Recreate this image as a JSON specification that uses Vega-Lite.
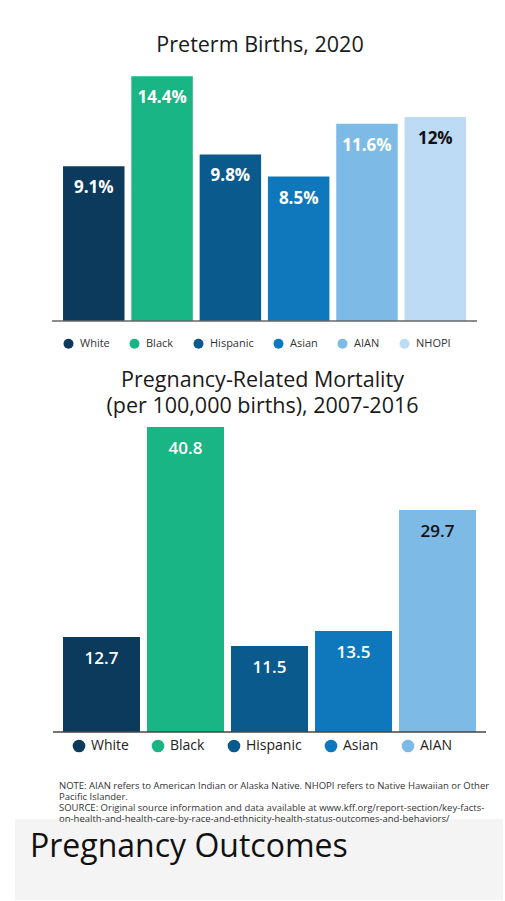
{
  "$schema": "https://vega.github.io/schema/vega-lite/v6.json",
  "background": "white",
  "padding": {"left": 15, "top": 34, "right": 0, "bottom": 0},
  "spacing": 20,
  "resolve": {"scale": {"color": "independent"}, "legend": {"color": "independent"}},
  "config": {
    "font": "Open Sans",
    "view": {"stroke": null},
    "axis": {"grid": false}
  },
  "datasets": {
    "preterm": [
      {"group": "White", "value": 0.091},
      {"group": "Black", "value": 0.144},
      {"group": "Hispanic", "value": 0.098},
      {"group": "Asian", "value": 0.085},
      {"group": "AIAN", "value": 0.116},
      {"group": "NHOPI", "value": 0.12}
    ],
    "mortality": [
      {"group": "White", "value": 12.7},
      {"group": "Black", "value": 40.8},
      {"group": "Hispanic", "value": 11.5},
      {"group": "Asian", "value": 13.5},
      {"group": "AIAN", "value": 29.7}
    ]
  },
  "vconcat": [
    {
      "width": 461,
      "height": 255,
      "title": {"text": "Preterm Births, 2020", "fontSize": 21.5, "fontWeight": "normal", "color": "#1a1a1a", "offset": 10, "frame": "group", "anchor": "middle", "dx": 14.5},
      "layer": [
        {
          "data": {"name": "preterm"},
          "mark": {"type": "bar"},
          "encoding": {
            "x": {"field": "group", "type": "nominal", "sort": ["White", "Black", "Hispanic", "Asian", "AIAN", "NHOPI"],
              "scale": {"paddingInner": 0.1, "paddingOuter": 0.4246, "align": 0.828}, "axis": null},
            "y": {"field": "value", "type": "quantitative", "scale": {"domain": [0, 0.15], "nice": false}, "axis": null},
            "color": {"field": "group", "type": "nominal",
              "scale": {"domain": ["White", "Black", "Hispanic", "Asian", "AIAN", "NHOPI"], "range": ["#0b3a5c", "#1ab584", "#0b5a8e", "#0f78bd", "#7dbae5", "#bddbf4"]},
              "legend": {"title": null, "orient": "none", "legendX": 48, "legendY": 272, "padding": 0, "direction": "horizontal", "symbolType": "circle", "symbolSize": 100, "symbolStrokeWidth": 0, "labelFontSize": 11, "labelColor": "#333333", "labelOffset": 6, "columnPadding": 19}}
          }
        },
        {
          "data": {"name": "preterm"},
          "mark": {"type": "text", "baseline": "alphabetic", "dy": 27, "fontSize": 17, "fontWeight": 700},
          "encoding": {
            "x": {"field": "group", "type": "nominal", "sort": ["White", "Black", "Hispanic", "Asian", "AIAN", "NHOPI"]},
            "y": {"field": "value", "type": "quantitative"},
            "text": {"field": "value", "type": "quantitative", "format": ".1~%"},
            "color": {"condition": {"test": "datum.group === 'NHOPI'", "value": "#111111"}, "value": "#ffffff"}
          }
        },
        {
          "data": {"values": [{"base": 0}]},
          "mark": {"type": "rule", "color": "#666666", "strokeWidth": 1.5},
          "encoding": {
            "x": {"datum": "White", "type": "nominal", "bandPosition": -0.179},
            "x2": {"datum": "NHOPI", "bandPosition": 1.179},
            "y": {"field": "base", "type": "quantitative"}
          }
        }
      ]
    },
    {
      "width": 471,
      "height": 305,
      "title": {"text": ["Pregnancy-Related Mortality", "(per 100,000 births), 2007-2016"], "fontSize": 21.5, "lineHeight": 26, "fontWeight": "normal", "color": "#1a1a1a", "offset": 10, "frame": "group", "anchor": "middle", "dx": 12},
      "layer": [
        {
          "data": {"name": "mortality"},
          "mark": {"type": "bar"},
          "encoding": {
            "x": {"field": "group", "type": "nominal", "sort": ["White", "Black", "Hispanic", "Asian", "AIAN"],
              "scale": {"paddingInner": 0.0833, "paddingOuter": 0.345, "align": 0.828}, "axis": null},
            "y": {"field": "value", "type": "quantitative", "scale": {"domain": [0, 40.8], "nice": false}, "axis": null},
            "color": {"field": "group", "type": "nominal",
              "scale": {"domain": ["White", "Black", "Hispanic", "Asian", "AIAN"], "range": ["#0b3a5c", "#1ab584", "#0b5a8e", "#0f78bd", "#7dbae5"]},
              "legend": {"title": null, "orient": "none", "legendX": 50, "legendY": 305, "padding": 7, "direction": "horizontal", "symbolType": "circle", "symbolSize": 160, "symbolStrokeWidth": 0, "labelFontSize": 14, "labelColor": "#222222", "labelOffset": 5, "columnPadding": 22}}
          }
        },
        {
          "data": {"name": "mortality"},
          "mark": {"type": "text", "baseline": "alphabetic", "dy": 27, "fontSize": 17, "fontWeight": 600},
          "encoding": {
            "x": {"field": "group", "type": "nominal", "sort": ["White", "Black", "Hispanic", "Asian", "AIAN"]},
            "y": {"field": "value", "type": "quantitative"},
            "text": {"field": "value", "type": "quantitative", "format": ".1f"},
            "color": {"condition": {"test": "datum.group === 'AIAN'", "value": "#111111"}, "value": "#ffffff"}
          }
        },
        {
          "data": {"values": [{"base": 0}]},
          "mark": {"type": "rule", "color": "#444444", "strokeWidth": 1.5},
          "encoding": {
            "x": {"datum": "White", "type": "nominal", "bandPosition": -0.13},
            "x2": {"datum": "AIAN", "bandPosition": 1.13},
            "y": {"field": "base", "type": "quantitative"}
          }
        }
      ]
    },
    {
      "width": 488,
      "height": 81,
      "view": {"fill": "#f4f4f4", "stroke": null},
      "title": {
        "text": [
          "NOTE: AIAN refers to American Indian or Alaska Native. NHOPI refers to Native Hawaiian or Other",
          "Pacific Islander.",
          "SOURCE: Original source information and data available at www.kff.org/report-section/key-facts-",
          "on-health-and-health-care-by-race-and-ethnicity-health-status-outcomes-and-behaviors/"
        ],
        "anchor": "start", "frame": "group", "dx": 44, "fontSize": 9.5, "fontWeight": "normal", "color": "#333333", "lineHeight": 11.2, "offset": -5
      },
      "data": {"values": [{"caption": "Pregnancy Outcomes"}]},
      "mark": {"type": "text", "align": "left", "baseline": "alphabetic", "fontSize": 32, "color": "#111111", "dx": 15},
      "encoding": {
        "text": {"field": "caption"},
        "x": {"datum": 0, "type": "quantitative", "scale": {"domain": [0, 1]}, "axis": null},
        "y": {"datum": 0.53, "type": "quantitative", "scale": {"domain": [0, 1]}, "axis": null}
      }
    }
  ]
}
